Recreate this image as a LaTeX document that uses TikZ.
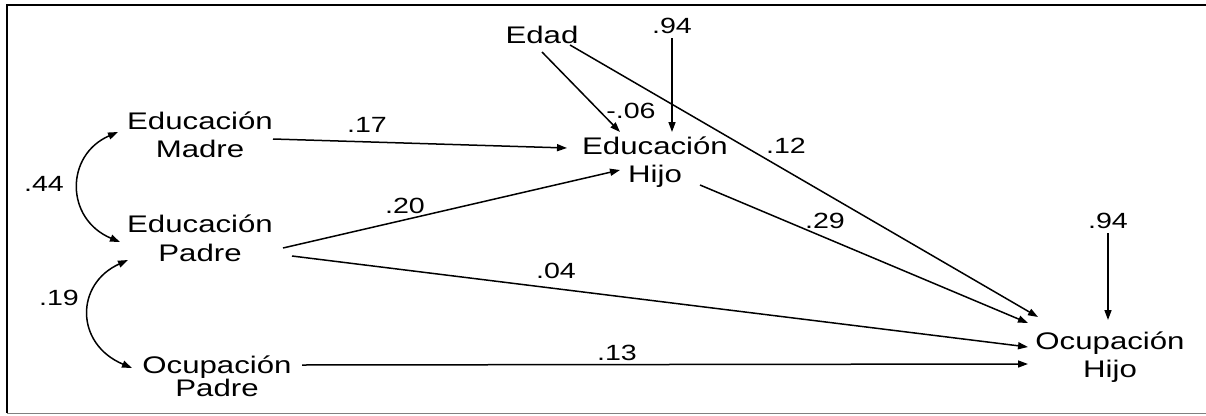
\documentclass[tikz,border=0pt]{standalone}
\usepackage{fontspec}
\setmainfont{Liberation Sans}
\usetikzlibrary{arrows.meta}
\newcommand\hs[1]{\scalebox{1.3}[1]{#1}}
\newcommand\tightlines{\lineskiplimit-30pt\relax}
\tikzset{
  varnode/.style={inner sep=0pt, align=center, font=\fontsize{24}{28}\selectfont},
  coefnode/.style={inner sep=0pt, anchor=base, font=\fontsize{22}{26}\selectfont},
  pathline/.style={line width=1.5pt, -{Triangle[length=10pt,width=7pt]}},
  corrline/.style={line width=1.5pt, {Triangle[length=10pt,width=7pt]}-{Triangle[length=10pt,width=7pt]}}
}
\begin{document}
\begin{tikzpicture}[x=1pt,y=-1pt]
\useasboundingbox (0,0) rectangle (1206,415);
\draw[line width=2pt] (1206,5) -- (7,5) -- (7,413);
\draw[gray, line width=1pt] (7,413) -- (1206,413);

% variables
\node[varnode] (em) at (200,135) {\hs{Educación}\\\hs{Madre}};
\node[varnode, font={\fontsize{24}{29}\selectfont}] (ep) at (200,238.6) {\hs{Educación}\\\hs{Padre}};
\node[varnode, font={\fontsize{24}{22.5}\selectfont\tightlines}] (op) at (217,376.5) {\hs{Ocupación}\\\hs{Padre}};
\node[varnode] (eh) at (655,162.6) {\hs{Educación}\\\hs{Hijo}};
\node[varnode] (oh) at (1110,357.6) {\hs{Ocupación}\\\hs{Hijo}};
\node[varnode, anchor=base] (edad) at (542,43) {\hs{Edad}};

% residuals
\node[coefnode] (r1) at (672,33) {\hs{.94}};
\node[coefnode] (r2) at (1108,228) {\hs{.94}};

% coefficients
\node[coefnode] (c44) at (44,191) {\hs{.44}};
\node[coefnode] (c19) at (59,305) {\hs{.19}};
\node[coefnode] (c17) at (367,132) {\hs{.17}};
\node[coefnode] (c20) at (405,213) {\hs{.20}};
\node[coefnode] (c06) at (631,118) {\hs{-.06}};
\node[coefnode] (c12) at (786,153) {\hs{.12}};
\node[coefnode] (c29) at (825,228) {\hs{.29}};
\node[coefnode] (c04) at (556,278) {\hs{.04}};
\node[coefnode] (c13) at (617,360) {\hs{.13}};

% correlations
\draw[corrline] ([shift={(-82,-3)}]em.center) .. controls (65,155) and (65,219) .. ([shift={(-80,3.4)}]ep.center);
\draw[corrline] ([shift={(-72,21.4)}]ep.center) .. controls (75,284) and (75,344) .. ([shift={(-85,-8.5)}]op.center);

% paths
\draw[pathline] ([shift={(73,4)}]em.center) -- ([shift={(-88,-14.6)}]eh.center);
\draw[pathline] ([shift={(83,9.4)}]ep.center) -- ([shift={(-35,7.4)}]eh.center);
\draw[pathline] ([shift={(0,9)}]edad.base) -- ([shift={(-35,-30.6)}]eh.center);
\draw[pathline] ([shift={(0,5)}]r1.base) -- ([shift={(17,-30.6)}]eh.center);
\draw[pathline] ([shift={(28,2)}]edad.base) -- ([shift={(-72,-40.6)}]oh.center);
\draw[pathline] ([shift={(45,22.4)}]eh.center) -- ([shift={(-82,-34.6)}]oh.center);
\draw[pathline] ([shift={(92,17.4)}]ep.center) -- ([shift={(-82,-10.6)}]oh.center);
\draw[pathline] ([shift={(85,-11.5)}]op.center) -- ([shift={(-82,6.4)}]oh.center);
\draw[pathline] ([shift={(0,5)}]r2.base) -- ([shift={(-2,-37.6)}]oh.center);
\end{tikzpicture}
\end{document}
